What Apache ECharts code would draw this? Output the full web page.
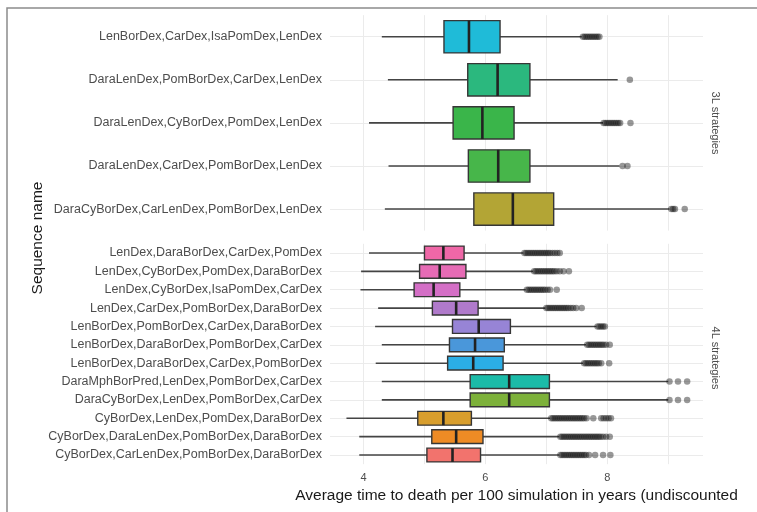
<!DOCTYPE html>
<html>
<head>
<meta charset="utf-8">
<script src="https://cdn.jsdelivr.net/npm/echarts@6/dist/echarts.min.js"></script>
<style>html,body{margin:0;padding:0;background:#fff;}#chart{width:757px;height:512px;}</style>
</head>
<body>
<div id="chart"></div>
<script>
// ---- data (top-to-bottom order within each panel) ----
const cats3L = [
  "LenBorDex,CarDex,IsaPomDex,LenDex",
  "DaraLenDex,PomBorDex,CarDex,LenDex",
  "DaraLenDex,CyBorDex,PomDex,LenDex",
  "DaraLenDex,CarDex,PomBorDex,LenDex",
  "DaraCyBorDex,CarLenDex,PomBorDex,LenDex"
];
const low3L  = [4.30, 4.40, 4.09, 4.41, 4.35];
const q1_3L  = [5.32, 5.71, 5.47, 5.72, 5.81];
const med3L  = [5.73, 6.20, 5.95, 6.21, 6.45];
const q3_3L  = [6.24, 6.73, 6.47, 6.73, 7.12];
const high3L = [7.58, 8.17, 7.93, 8.20, 9.02];
const out3L = [
  [7.60, 7.63, 7.66, 7.69, 7.72, 7.75, 7.78, 7.81, 7.84, 7.87],
  [8.37],
  [7.94, 7.97, 8.00, 8.03, 8.06, 8.09, 8.12, 8.15, 8.18, 8.21, 8.38],
  [8.25, 8.33],
  [9.05, 9.08, 9.11, 9.27]
];

const cats4L = [
  "LenDex,DaraBorDex,CarDex,PomDex",
  "LenDex,CyBorDex,PomDex,DaraBorDex",
  "LenDex,CyBorDex,IsaPomDex,CarDex",
  "LenDex,CarDex,PomBorDex,DaraBorDex",
  "LenBorDex,PomBorDex,CarDex,DaraBorDex",
  "LenBorDex,DaraBorDex,PomBorDex,CarDex",
  "LenBorDex,DaraBorDex,CarDex,PomBorDex",
  "DaraMphBorPred,LenDex,PomBorDex,CarDex",
  "DaraCyBorDex,LenDex,PomBorDex,CarDex",
  "CyBorDex,LenDex,PomDex,DaraBorDex",
  "CyBorDex,DaraLenDex,PomBorDex,DaraBorDex",
  "CyBorDex,CarLenDex,PomBorDex,DaraBorDex"
];
const low4L  = [4.09, 3.96, 3.95, 4.24, 4.19, 4.30, 4.20, 4.30, 4.30, 3.72, 3.93, 3.93];
const q1_4L  = [5.00, 4.92, 4.83, 5.13, 5.46, 5.41, 5.38, 5.75, 5.75, 4.89, 5.12, 5.04];
const med4L  = [5.31, 5.25, 5.15, 5.52, 5.89, 5.83, 5.80, 6.39, 6.39, 5.31, 5.52, 5.46];
const q3_4L  = [5.65, 5.68, 5.58, 5.88, 6.41, 6.31, 6.29, 7.05, 7.05, 5.77, 5.96, 5.92];
const high4L = [6.62, 6.78, 6.66, 6.98, 7.82, 7.65, 7.60, 9.00, 9.00, 7.06, 7.21, 7.21];
const out4L = [
  [6.64, 6.67, 6.70, 6.73, 6.76, 6.79, 6.82, 6.85, 6.88, 6.91, 6.94, 6.97, 7.00, 7.03, 7.06, 7.10, 7.14, 7.18, 7.22],
  [6.80, 6.83, 6.86, 6.89, 6.92, 6.95, 6.98, 7.01, 7.04, 7.07, 7.10, 7.13, 7.17, 7.22, 7.28, 7.37],
  [6.68, 6.71, 6.74, 6.77, 6.80, 6.83, 6.86, 6.89, 6.92, 6.95, 6.98, 7.02, 7.06, 7.17],
  [7.00, 7.03, 7.06, 7.09, 7.12, 7.15, 7.18, 7.21, 7.24, 7.27, 7.30, 7.33, 7.36, 7.40, 7.44, 7.49, 7.58],
  [7.84, 7.87, 7.90, 7.93, 7.96],
  [7.67, 7.70, 7.73, 7.76, 7.79, 7.82, 7.85, 7.88, 7.91, 7.94, 7.98, 8.04],
  [7.62, 7.65, 7.68, 7.71, 7.74, 7.77, 7.80, 7.83, 7.86, 7.90, 8.03],
  [9.02, 9.16, 9.31],
  [9.02, 9.16, 9.31],
  [7.08, 7.11, 7.14, 7.17, 7.20, 7.23, 7.26, 7.29, 7.32, 7.35, 7.38, 7.41, 7.44, 7.47, 7.50, 7.53, 7.56, 7.59, 7.62, 7.66, 7.77, 7.90, 7.94, 7.98, 8.02, 8.06],
  [7.23, 7.26, 7.29, 7.32, 7.35, 7.38, 7.41, 7.44, 7.47, 7.50, 7.53, 7.56, 7.59, 7.62, 7.65, 7.68, 7.71, 7.74, 7.77, 7.80, 7.83, 7.86, 7.89, 7.93, 7.98, 8.04],
  [7.23, 7.26, 7.29, 7.32, 7.35, 7.38, 7.41, 7.44, 7.47, 7.50, 7.53, 7.56, 7.59, 7.62, 7.65, 7.70, 7.80, 7.93, 8.05]
];
const xTicks = [4, 6, 8];
const xGrid = [4, 5, 6, 7, 8, 9];

// ---- styles ----
const colors3L = ["#1fbbd8", "#2bb87e", "#3ab54a", "#47b64a", "#b3a535"];
const colors4L = ["#ef67a7", "#e66bb5", "#d46fc6", "#b07acb", "#9784d6", "#4a97da",
                  "#2baee6", "#1bbba8", "#7db13a", "#d89e2d", "#ee8b25", "#f2736d"];
const FONT = "Liberation Sans, Arial, sans-serif";

function boxData(low, q1, med, q3, high) {
  return low.map((v, i) => [i, v, q1[i], med[i], q3[i], high[i]]);
}
function outlierData(cats, outs) {
  const d = [];
  outs.forEach((arr, i) => arr.forEach(v => d.push([v, cats[i]])));
  return d;
}
function makeRender(colors) {
  return function (params, api) {
    const idx = api.value(0);
    const lo = api.coord([api.value(1), idx]);
    const q1 = api.coord([api.value(2), idx]);
    const md = api.coord([api.value(3), idx]);
    const q3 = api.coord([api.value(4), idx]);
    const hi = api.coord([api.value(5), idx]);
    const band = api.size([0, 1])[1];
    const h = band * 0.75;
    const cy = lo[1];
    const wl = { stroke: '#444444', lineWidth: 1.6 };
    return {
      type: 'group',
      children: [
        { type: 'line', shape: { x1: lo[0], y1: cy, x2: q1[0], y2: cy }, style: wl },
        { type: 'line', shape: { x1: q3[0], y1: cy, x2: hi[0], y2: cy }, style: wl },
        { type: 'rect', shape: { x: q1[0], y: cy - h / 2, width: q3[0] - q1[0], height: h },
          style: { fill: colors[params.dataIndex], stroke: '#363636', lineWidth: 1.4 } },
        { type: 'line', shape: { x1: md[0], y1: cy - h / 2, x2: md[0], y2: cy + h / 2 },
          style: { stroke: '#222222', lineWidth: 2.6 } }
      ]
    };
  };
}
function gridLines(cats) {
  const d = xGrid.map(v => ({ xAxis: v }));
  cats.forEach(c => d.push({ yAxis: c }));
  return d;
}

const chart = echarts.init(document.getElementById('chart'), null, { renderer: 'canvas' });
const xBase = {
  type: 'value', min: 3.45, max: 9.57,
  axisLine: { show: false }, axisTick: { show: false }, splitLine: { show: false }
};
const yBase = {
  type: 'category', inverse: true,
  axisLine: { show: false }, axisTick: { show: false }, splitLine: { show: false },
  axisLabel: { color: '#4d4d4d', fontSize: 12.5, fontFamily: FONT, margin: 8 }
};
const gridML = (cats) => ({ silent: true, symbol: 'none', z: 0, label: { show: false },
  lineStyle: { color: '#ebebeb', width: 1, type: 'solid' }, data: gridLines(cats) });
chart.setOption({
  animation: false,
  backgroundColor: '#ffffff',
  textStyle: { fontFamily: FONT },
  grid: [
    { left: 330, top: 15.2, width: 373, height: 215.4 },
    { left: 330, top: 243.8, width: 373, height: 220.4 }
  ],
  xAxis: [
    Object.assign({ gridIndex: 0, axisLabel: { show: false } }, xBase),
    Object.assign({ gridIndex: 1,
      axisLabel: { show: true, customValues: xTicks, color: '#4d4d4d', fontSize: 11, fontFamily: FONT, margin: 8 },
      name: 'Average time to death per 100 simulation in years (undiscounted',
      nameLocation: 'middle', nameGap: 24,
      nameTextStyle: { color: '#1a1a1a', fontSize: 15.5, fontFamily: FONT } }, xBase)
  ],
  yAxis: [
    Object.assign({ gridIndex: 0, data: cats3L }, yBase),
    Object.assign({ gridIndex: 1, data: cats4L }, yBase)
  ],
  series: [
    { type: 'scatter', xAxisIndex: 0, yAxisIndex: 0, data: [], silent: true, z: 0,
      markLine: gridML(cats3L) },
    { type: 'scatter', xAxisIndex: 1, yAxisIndex: 1, data: [], silent: true, z: 0,
      markLine: gridML(cats4L) },
    { type: 'custom', xAxisIndex: 0, yAxisIndex: 0, z: 6,
      renderItem: makeRender(colors3L),
      encode: { x: [1, 2, 3, 4, 5], y: 0 },
      data: boxData(low3L, q1_3L, med3L, q3_3L, high3L) },
    { type: 'custom', xAxisIndex: 1, yAxisIndex: 1, z: 6,
      renderItem: makeRender(colors4L),
      encode: { x: [1, 2, 3, 4, 5], y: 0 },
      data: boxData(low4L, q1_4L, med4L, q3_4L, high4L) },
    { type: 'scatter', xAxisIndex: 0, yAxisIndex: 0, z: 7, symbolSize: 6.5,
      itemStyle: { color: 'rgba(20,20,20,0.55)', borderWidth: 0 },
      data: outlierData(cats3L, out3L) },
    { type: 'scatter', xAxisIndex: 1, yAxisIndex: 1, z: 7, symbolSize: 6.5,
      itemStyle: { color: 'rgba(20,20,20,0.55)', borderWidth: 0 },
      data: outlierData(cats4L, out4L) }
  ],
  graphic: [
    { type: 'rect', shape: { x: 7, y: 8, width: 800, height: 560 },
      style: { fill: 'none', stroke: '#8c8c8c', lineWidth: 1.5 }, z: 10, silent: true },
    { type: 'text', x: 38, y: 238, rotation: Math.PI / 2,
      style: { text: 'Sequence name', fontSize: 15.5, fontFamily: FONT, fill: '#1a1a1a',
               align: 'center', verticalAlign: 'middle' } },
    { type: 'text', x: 715, y: 123, rotation: -Math.PI / 2,
      style: { text: '3L strategies', fontSize: 11, fontFamily: FONT, fill: '#4d4d4d',
               align: 'center', verticalAlign: 'middle' } },
    { type: 'text', x: 715, y: 358, rotation: -Math.PI / 2,
      style: { text: '4L strategies', fontSize: 11, fontFamily: FONT, fill: '#4d4d4d',
               align: 'center', verticalAlign: 'middle' } }
  ]
});
</script>
</body>
</html>
